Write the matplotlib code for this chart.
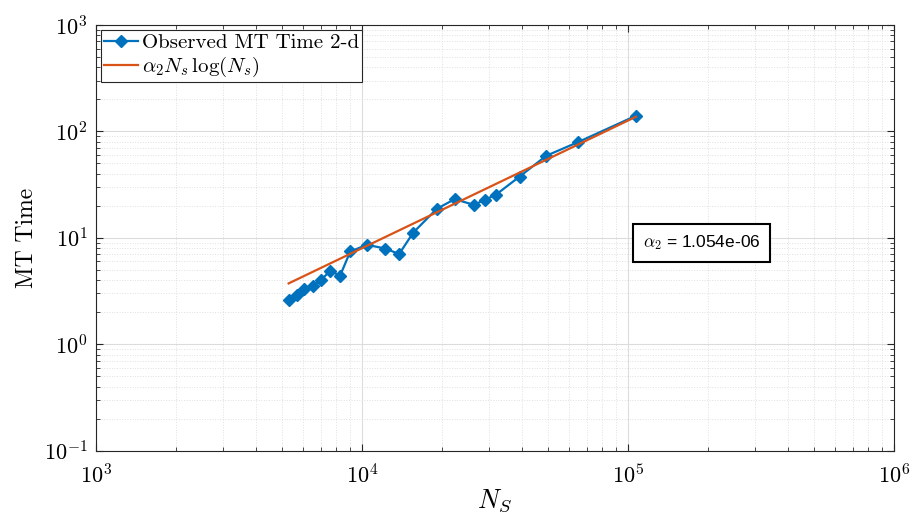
import numpy as np
import matplotlib
matplotlib.use("Agg")
import matplotlib.pyplot as plt

# Observed MT time (2-d) vs number of sources
n_s = [5300, 5690, 6080, 6530, 7020, 7610, 8270, 9040, 10440, 12240, 13800,
       15590, 19100, 22320, 26360, 28910, 31810, 39140, 49290, 64860, 107300]
mt_time = [2.62, 2.91, 3.30, 3.49, 4.03, 4.91, 4.39, 7.44, 8.60, 7.93, 7.04,
           11.2, 18.7, 23.1, 20.4, 22.7, 25.3, 37.6, 59.0, 79.2, 140.5]

# fitted alpha_2 * Ns * log(Ns) curve (end points)
fit_x = [5300, 107300]
fit_y = [3.73, 137.5]
alpha2_text = r"$\alpha_2$ = 1.054e-06"

plt.rcParams['font.family'] = 'serif'
plt.rcParams['font.serif'] = ['cmr10']
plt.rcParams['mathtext.fontset'] = 'cm'
plt.rcParams['axes.formatter.use_mathtext'] = True

fig = plt.figure(figsize=(9.14, 5.16), dpi=100)
ax = fig.add_axes([0.105, 0.1266, 0.873, 0.825])

blue = '#0072BD'
orange = '#D95319'

ax.plot(n_s, mt_time, '-D', color=blue, lw=1.6, ms=6,
        label='Observed MT Time 2-d')
ax.plot(fit_x, fit_y, '-', color=orange, lw=1.6,
        label=r'$\alpha_2 N_s\,\log(N_s)$')

ax.set_xscale('log')
ax.set_yscale('log')
ax.set_xlim(1e3, 1e6)
ax.set_ylim(1e-1, 1e3)

ax.grid(True, which='major', color='#dcdcdc', lw=0.8, ls='-')
ax.grid(True, which='minor', color='#e0e0e0', lw=0.7, ls=':')
ax.set_axisbelow(True)

ax.tick_params(which='both', direction='in', top=True, right=True,
               labelsize=16, color='#262626')
ax.tick_params(axis='x', which='major', pad=9)
ax.tick_params(axis='y', which='major', pad=6)
ax.tick_params(which='major', length=5)
ax.tick_params(which='minor', length=3)
for s in ax.spines.values():
    s.set_color('#262626')
    s.set_linewidth(0.8)

ax.set_xlabel(r'$N_S$', fontsize=19, labelpad=0)
ax.set_ylabel('MT Time', fontsize=17, labelpad=4)

leg = ax.legend(loc='upper left', fontsize=15, fancybox=False,
                edgecolor='#262626', framealpha=1, borderpad=0.15,
                handlelength=1.6, handletextpad=0.2, borderaxespad=0.25,
                labelspacing=0.15)
leg.get_frame().set_linewidth(0.8)

ax.text(0.759, 0.488, alpha2_text, transform=ax.transAxes, ha='center',
        va='center', fontsize=12.5, family='Liberation Sans',
        bbox=dict(boxstyle='square,pad=0.55', fc='white', ec='black', lw=1.5))

fig.savefig('out.png', dpi=100)
